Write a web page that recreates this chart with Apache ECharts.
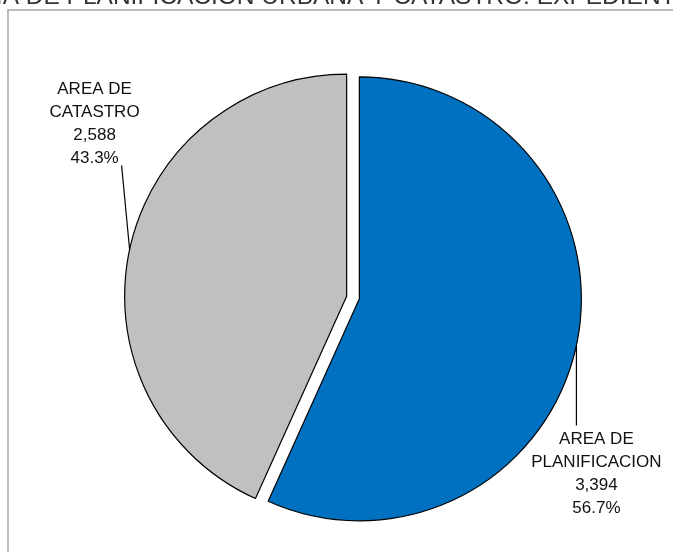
<!DOCTYPE html>
<html><head><meta charset="utf-8">
<script src="https://cdn.jsdelivr.net/npm/echarts@6/dist/echarts.min.js"></script>
<style>html,body{margin:0;padding:0;background:#fff}#c{width:673px;height:552px}</style>
</head><body><div id="c"></div>
<script>
const titleText = 'GERENCIA DE PLANIFICACION URBANA Y CATASTRO: EXPEDIENTES';
const categories = ['AREA DE PLANIFICACION', 'AREA DE CATASTRO'];
const values = [3394, 2588];
const colors = ['#0070C0', '#C0C0C0'];

const CX = 353, CY = 297.5, R = 222, OFF = 6.5;
const total = values.reduce((a, b) => a + b, 0);

function midDir(i) {
  let cum = 0;
  for (let k = 0; k < i; k++) cum += values[k];
  const th = (cum + values[i] / 2) / total * Math.PI * 2;
  return [Math.sin(th), -Math.cos(th)];
}

function makeSeries(idx) {
  const d = midDir(idx);
  const cx = CX + OFF * d[0], cy = CY + OFF * d[1];
  return {
    type: 'pie',
    center: [cx, cy],
    radius: R,
    startAngle: 90,
    clockwise: true,
    percentPrecision: 1,
    silent: true,
    avoidLabelOverlap: false,
    emphasis: {disabled: true},
    itemStyle: {borderColor: '#000', borderWidth: 1.2},
    label: {
      show: true,
      position: 'outside',
      overflow: 'none',
      fontFamily: 'Liberation Sans',
      fontSize: 17,
      lineHeight: 23,
      color: '#111',
      align: 'center',
      formatter: p => p.name.replace('AREA DE ', 'AREA DE\n') + '\n' +
        p.value.toLocaleString('en-US') + '\n' + p.percent.toFixed(1) + '%'
    },
    labelLine: {show: true, lineStyle: {color: '#000', width: 1.2}},
    labelLayout: function (params) {
      const i = params.dataIndex;
      const dd = midDir(i);
      const e = [cx + R * dd[0], cy + R * dd[1]];
      if (i === 0) {
        return {
          x: e[0] + 20, y: e[1] + 82, align: 'center', verticalAlign: 'top',
          labelLinePoints: [e, [e[0], e[1] + 80], [e[0], e[1] + 80]]
        };
      }
      return {
        x: e[0] - 35, y: e[1] - 80, align: 'center', verticalAlign: 'bottom',
        labelLinePoints: [e, [e[0] - 8, e[1] - 84], [e[0] - 8, e[1] - 84]]
      };
    },
    data: categories.map((c, i) => i === idx ? {
      name: c, value: values[i], itemStyle: {color: colors[i]}
    } : {
      name: c, value: values[i],
      itemStyle: {color: 'rgba(0,0,0,0)', borderWidth: 0},
      label: {show: false}, labelLine: {show: false}
    })
  };
}

const chart = echarts.init(document.getElementById('c'), null, {renderer: 'canvas'});
chart.setOption({
  animation: false,
  backgroundColor: '#fff',
  title: {
    text: titleText,
    left: -114,
    top: -20,
    textStyle: {fontFamily: 'Liberation Sans', fontSize: 24.5, fontWeight: 'normal', color: '#333'}
  },
  graphic: [{
    type: 'rect', silent: true, z: -1,
    shape: {x: 8, y: 10, width: 700, height: 600},
    style: {fill: 'none', stroke: '#a6a6a6', lineWidth: 1.5}
  }],
  series: [makeSeries(0), makeSeries(1)]
});
</script></body></html>
